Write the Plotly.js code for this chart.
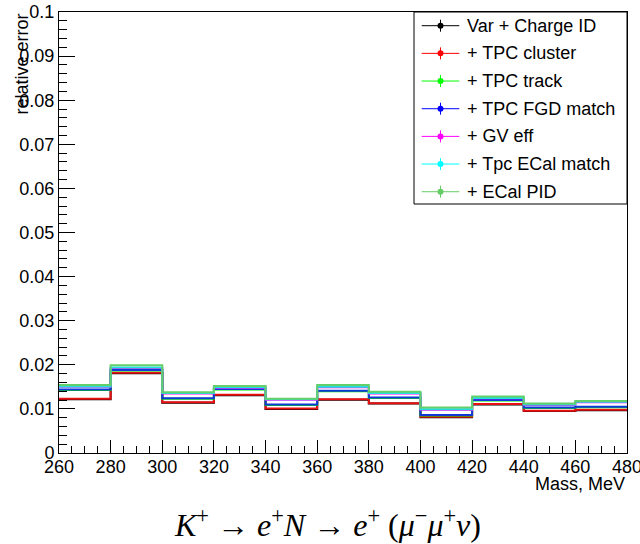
<!DOCTYPE html>
<html>
<head>
<meta charset="utf-8">
<script src="https://cdn.plot.ly/plotly-3.0.1.min.js"></script>
<style>html,body{margin:0;padding:0;background:#fff;}#plot{width:640px;height:544px;}</style>
</head>
<body>
<div id="plot"></div>
<script>
// Bin edges (MeV)
const binEdges = [260, 280, 300, 320, 340, 360, 380, 400, 420, 440, 460, 480];
// Series names
const seriesNames = ["Var + Charge ID", "+ TPC cluster", "+ TPC track", "+ TPC FGD match", "+ GV eff", "+ Tpc ECal match", "+ ECal PID"];
// Relative error per bin for each series
const varChargeID   = [0.0122, 0.0181, 0.0114, 0.0131, 0.0100, 0.0121, 0.0112, 0.0081, 0.0110, 0.0095, 0.0097];
const tpcCluster    = [0.0123, 0.0182, 0.0115, 0.0132, 0.0101, 0.0122, 0.0113, 0.0082, 0.0111, 0.0096, 0.0098];
const tpcTrack      = [0.0143, 0.0187, 0.0123, 0.0144, 0.0109, 0.0140, 0.0125, 0.0085, 0.0119, 0.0102, 0.0104];
const tpcFgdMatch   = [0.0144, 0.0188, 0.0124, 0.0145, 0.0110, 0.0141, 0.0126, 0.0086, 0.0120, 0.0103, 0.0105];
const gvEff         = [0.0150, 0.0193, 0.0135, 0.0148, 0.0121, 0.0149, 0.0135, 0.0098, 0.0124, 0.0109, 0.0115];
const tpcEcalMatch  = [0.0151, 0.0194, 0.0136, 0.0149, 0.0122, 0.0150, 0.0136, 0.0099, 0.0125, 0.0110, 0.0116];
const ecalPID       = [0.0154, 0.0199, 0.0138, 0.0152, 0.0123, 0.0154, 0.0139, 0.0103, 0.0128, 0.0112, 0.0118];
const yTickVals = [0, 0.01, 0.02, 0.03, 0.04, 0.05, 0.06, 0.07, 0.08, 0.09, 0.1];
const yTickText = ["0", "0.01", "0.02", "0.03", "0.04", "0.05", "0.06", "0.07", "0.08", "0.09", "0.1"];
const xTickVals = [260, 280, 300, 320, 340, 360, 380, 400, 420, 440, 460, 480];

const seriesValues = [varChargeID, tpcCluster, tpcTrack, tpcFgdMatch, gvEff, tpcEcalMatch, ecalPID];
const lineColors = ["#000000", "#e81010", "#00ee00", "#1038d8", "#ff00ff", "#20e0e0", "#62cf6a"];
const legendColors = ["#000000", "#ff0000", "#00ff00", "#0000ff", "#ff00ff", "#00ffff", "#66cc66"];

const FONT = "Liberation Sans, Arial, Helvetica, sans-serif";
const L = 59, R = 627, T = 12, B = 453;
const W = 640, H = 544;
const px2x = p => (p - L) / (R - L);
const py2y = p => (B - p) / (B - T);

const traces = seriesValues.map((vals, i) => ({
  type: "scatter",
  mode: "lines",
  x: binEdges,
  y: vals.concat([vals[vals.length - 1]]),
  line: {shape: "hv", color: lineColors[i], width: 2},
  name: seriesNames[i],
  showlegend: false,
  hoverinfo: "skip"
}));

const shapes = [];
const annotations = [];
// legend box
shapes.push({type: "rect", xref: "paper", yref: "paper", x0: px2x(414), x1: px2x(627), y0: py2y(204), y1: py2y(12),
  fillcolor: "#ffffff", line: {color: "#000000", width: 1}, layer: "above"});
seriesNames.forEach((nm, i) => {
  const py = 25.7 + i * 27.67;
  const c = legendColors[i];
  shapes.push({type: "line", xref: "paper", yref: "paper", x0: px2x(421.7), x1: px2x(459.3), y0: py2y(py), y1: py2y(py),
    line: {color: c, width: 1}, layer: "above"});
  shapes.push({type: "line", xref: "paper", yref: "paper", x0: px2x(440.5), x1: px2x(440.5), y0: py2y(py - 6), y1: py2y(py + 6),
    line: {color: c, width: 1}, layer: "above"});
  shapes.push({type: "circle", xref: "paper", yref: "paper", xsizemode: "pixel", ysizemode: "pixel",
    xanchor: px2x(440.5), yanchor: py2y(py), x0: -3, x1: 3, y0: -3, y1: 3,
    fillcolor: c, line: {color: c, width: 0}, layer: "above"});
  annotations.push({xref: "paper", yref: "paper", x: px2x(465), y: py2y(py), xanchor: "left", yanchor: "middle",
    text: nm, showarrow: false, font: {family: FONT, size: 18, color: "#000"}});
});
// y-axis title (ROOT style, right-aligned at the top)
annotations.push({xref: "paper", yref: "paper", x: px2x(21), y: 1, xanchor: "center", yanchor: "top", textangle: -90,
  text: "relative error", showarrow: false, font: {family: FONT, size: 18, color: "#000"}});
// x-axis title
annotations.push({xref: "paper", yref: "paper", x: 1, y: py2y(484), xanchor: "right", yanchor: "middle",
  text: "Mass, MeV", showarrow: false, font: {family: FONT, size: 18, color: "#000"}});
// formula
annotations.push({xref: "paper", yref: "paper", x: px2x(327), y: py2y(523), xanchor: "center", yanchor: "middle",
  text: "<i>K</i><sup>+</sup> → <i>e</i><sup>+</sup><i>N</i> → <i>e</i><sup>+</sup> (<i>μ</i><sup>−</sup><i>μ</i><sup>+</sup><i>ν</i>)",
  showarrow: false, font: {family: "Liberation Serif, Times New Roman, serif", size: 32, color: "#000"}});

const layout = {
  width: W, height: H,
  margin: {l: L, r: W - R, t: T, b: H - B, pad: 0},
  paper_bgcolor: "#ffffff", plot_bgcolor: "#ffffff",
  showlegend: false,
  xaxis: {
    range: [260, 480], autorange: false, tickmode: "array", tickvals: xTickVals,
    ticks: "inside", ticklen: 13, tickwidth: 1, tickcolor: "#000",
    minor: {dtick: 5, tick0: 260, ticks: "inside", ticklen: 7, tickwidth: 1, tickcolor: "#000", showgrid: false},
    showline: true, linecolor: "#000", linewidth: 1, mirror: true,
    showgrid: false, zeroline: false, automargin: false,
    tickfont: {family: FONT, size: 18, color: "#000"}, ticklabelstandoff: -3, ticklabeloverflow: "allow"
  },
  yaxis: {
    range: [0, 0.1], autorange: false, tickmode: "array", tickvals: yTickVals, ticktext: yTickText,
    ticks: "inside", ticklen: 16, tickwidth: 1, tickcolor: "#000",
    minor: {dtick: 0.002, tick0: 0, ticks: "inside", ticklen: 8, tickwidth: 1, tickcolor: "#000", showgrid: false},
    showline: true, linecolor: "#000", linewidth: 1, mirror: true,
    showgrid: false, zeroline: false, automargin: false,
    tickfont: {family: FONT, size: 18, color: "#000"}, ticklabeloverflow: "allow"
  },
  shapes: shapes,
  annotations: annotations
};

Plotly.newPlot("plot", traces, layout, {staticPlot: true, displayModeBar: false});
</script>
</body>
</html>
